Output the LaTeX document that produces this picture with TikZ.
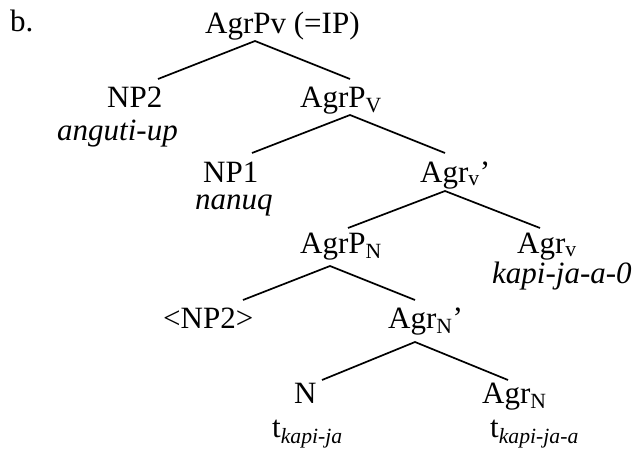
\documentclass[tikz,border=0pt]{standalone}
\usepackage{fontspec}
\setmainfont{Liberation Serif}
\begin{document}
\begin{tikzpicture}[x=1pt,y=-1pt,
  lbl/.style={anchor=base west, inner sep=0pt, font=\fontsize{31}{36}\selectfont},
  edge/.style={line width=1.7pt}]
\useasboundingbox (0,0) rectangle (638,450);
% labels
\node[lbl] (b) at (10,31) {b.};
\node[lbl] (ip) at (205,33) {AgrPv (=IP)};
\node[lbl] (np2) at (107,107) {NP2};
\node[lbl] (np2g) at (57,140) {\textit{anguti-up}};
\node[lbl] (agrpv) at (300,107) {AgrP\textsubscript{V}};
\node[lbl] (np1) at (203,182) {NP1};
\node[lbl] (nanuq) at (195,209) {\textit{nanuq}};
\node[lbl] (agrvbar) at (420,182) {Agr\textsubscript{v}’};
\node[lbl] (agrpn) at (300,253) {AgrP\textsubscript{N}};
\node[lbl] (agrv) at (517,253) {Agr\textsubscript{v}};
\node[lbl] (kapi) at (492,283) {\textit{kapi-ja-a-0}};
\node[lbl] (np2t) at (163,328) {<NP2>};
\node[lbl] (agrnbar) at (388,328) {Agr\textsubscript{N}’};
\node[lbl] (n) at (294,403) {N};
\node[lbl] (agrn) at (482,403) {Agr\textsubscript{N}};
\node[lbl] (tn) at (272,437) {t\textsubscript{\textit{kapi-ja}}};
\node[lbl] (tagrn) at (490,437) {t\textsubscript{\textit{kapi-ja-a}}};
% edge end points
\coordinate (ip-b) at (255,41);
\coordinate (np2-t) at (158,79);
\coordinate (agrpv-t) at (350,79);
\coordinate (agrpv-b) at (350,115);
\coordinate (np1-t) at (252,153);
\coordinate (agrvbar-t) at (445,153);
\coordinate (agrvbar-b) at (445,191);
\coordinate (agrpn-t) at (348,228);
\coordinate (agrv-t) at (540,228);
\coordinate (agrpn-b) at (330,266);
\coordinate (np2t-t) at (243,300);
\coordinate (agrnbar-t) at (415,300);
\coordinate (agrnbar-b) at (415,342);
\coordinate (n-t) at (322,380);
\coordinate (agrn-t) at (508,380);
% edges
\draw[edge] (np2-t) -- (ip-b) -- (agrpv-t);
\draw[edge] (np1-t) -- (agrpv-b) -- (agrvbar-t);
\draw[edge] (agrpn-t) -- (agrvbar-b) -- (agrv-t);
\draw[edge] (np2t-t) -- (agrpn-b) -- (agrnbar-t);
\draw[edge] (n-t) -- (agrnbar-b) -- (agrn-t);
\end{tikzpicture}
\end{document}
